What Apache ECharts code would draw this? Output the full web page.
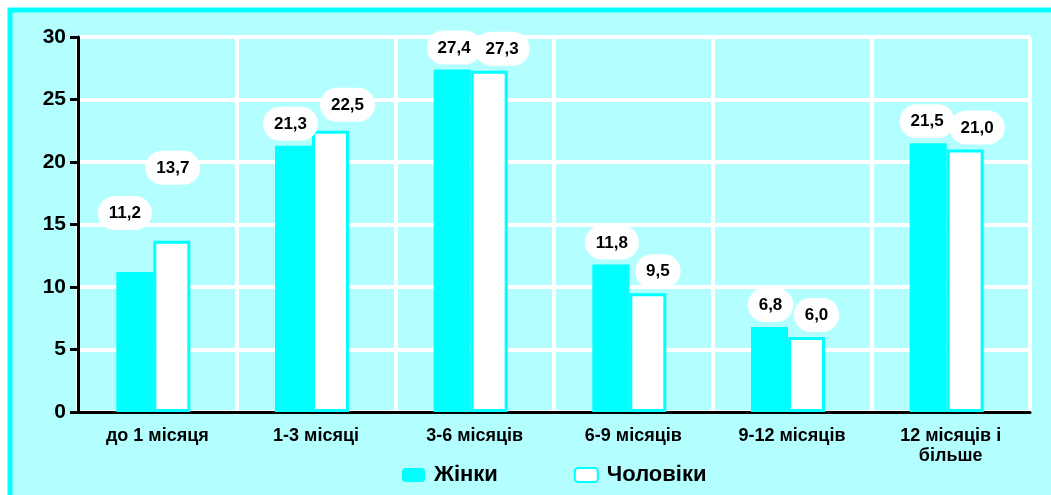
<!DOCTYPE html>
<html>
<head>
<meta charset="utf-8">
<script src="https://cdn.jsdelivr.net/npm/echarts@6/dist/echarts.min.js"></script>
<style>
html,body{margin:0;padding:0;background:#fff;}
#c{width:1051px;height:495px;}
</style>
</head>
<body>
<div id="c"></div>
<script>
const categories = ['до 1 місяця', '1-3 місяці', '3-6 місяців', '6-9 місяців', '9-12 місяців', '12 місяців і більше'];
const women = [11.2, 21.3, 27.4, 11.8, 6.8, 21.5];
const men = [13.7, 22.5, 27.3, 9.5, 6.0, 21.0];
const seriesNames = ['Жінки', 'Чоловіки'];
const yTicks = [0, 5, 10, 15, 20, 25, 30];

const FONT = '"Liberation Sans", Arial, sans-serif';
const CYAN = '#00ffff';
const LIGHT = '#b3ffff';

// label nudges (style only)
const womenNudge = [[-10, -37], [-3, 0], [2, 0], [1, 0], [1, 0], [-1, 0]];
const menNudge = [[1, -51], [17, -4], [13, 0], [10, 0], [10, 0], [12, 0]];

const labelBase = {
  show: true,
  position: 'top',
  distance: 5,
  formatter: p => p.value.toFixed(1).replace('.', ','),
  color: '#000',
  fontFamily: FONT,
  fontWeight: 'bold',
  fontSize: 17,
  lineHeight: 17,
  backgroundColor: '#fff',
  padding: [9, 11, 8, 11],
  borderRadius: 17
};

function build(vals, nudge) {
  return vals.map((v, i) => ({ value: v, label: { offset: nudge[i] } }));
}

function wrapLabel(s) {
  if (s.length <= 14) return s;
  const k = s.lastIndexOf(' ');
  return s.slice(0, k) + '\n' + s.slice(k + 1);
}

const chart = echarts.init(document.getElementById('c'));
chart.setOption({
  animation: false,
  backgroundColor: '#fff',
  graphic: [{
    type: 'rect', z: -10, silent: true,
    shape: { x: 10, y: 10, width: 1200, height: 700 },
    style: { fill: LIGHT, stroke: CYAN, lineWidth: 5 }
  }],
  grid: { left: 78, right: 21, top: 37, bottom: 83, containLabel: false },
  legend: {
    data: seriesNames,
    left: 397, top: 459,
    itemWidth: 23, itemHeight: 14, itemGap: 76,
    textStyle: { fontFamily: FONT, fontWeight: 'bold', fontSize: 22, color: '#000', padding: [0, 0, 0, 4] }
  },
  xAxis: {
    type: 'category',
    data: categories,
    axisLine: { lineStyle: { color: '#000', width: 3 } },
    axisTick: { show: false },
    splitLine: { show: true, lineStyle: { color: '#fff', width: 4 } },
    axisLabel: {
      interval: 0, margin: 14, formatter: wrapLabel,
      fontFamily: FONT, fontWeight: 'bold', fontSize: 18, lineHeight: 20, color: '#000'
    }
  },
  yAxis: {
    type: 'value',
    min: 0, max: 30, interval: 5,
    axisLine: { show: true, lineStyle: { color: '#000', width: 3 } },
    axisTick: { show: true, length: 8, lineStyle: { color: '#000', width: 3 } },
    splitLine: { show: true, lineStyle: { color: '#fff', width: 4 } },
    axisLabel: {
      margin: 12, fontFamily: FONT, fontWeight: 'bold', fontSize: 21, color: '#000',
      formatter: v => (yTicks.indexOf(v) >= 0 ? String(v) : '')
    }
  },
  series: [
    {
      name: seriesNames[0], type: 'bar', barWidth: 37, barGap: 0,
      itemStyle: { color: CYAN },
      label: labelBase,
      data: build(women, womenNudge), z: 3
    },
    {
      name: seriesNames[1], type: 'bar', barWidth: 37, barGap: 0,
      itemStyle: { color: '#fff', borderColor: CYAN, borderWidth: 3 },
      label: labelBase,
      data: build(men, menNudge), z: 2
    },
    {
      name: 'spacer', type: 'bar', barWidth: 8, barGap: 0, silent: true,
      data: categories.map(() => null)
    }
  ]
});
</script>
</body>
</html>
